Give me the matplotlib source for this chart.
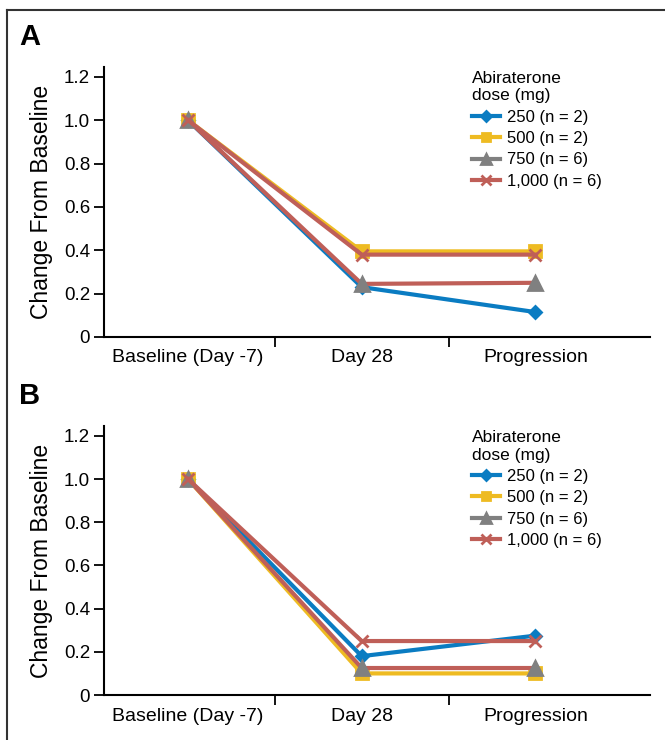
import matplotlib.pyplot as plt
from matplotlib.lines import Line2D

plt.rcParams['font.family'] = ['Liberation Sans Narrow', 'Liberation Sans', 'DejaVu Sans']

categories = ["Baseline (Day -7)", "Day 28", "Progression"]
doses = ["250 (n = 2)", "500 (n = 2)", "750 (n = 6)", "1,000 (n = 6)"]

# panel A
a_250 = [1.0, 0.23, 0.115]
a_500 = [1.0, 0.395, 0.395]
a_750 = [1.0, 0.245, 0.25]
a_1000 = [1.0, 0.38, 0.38]

# panel B
b_250 = [1.0, 0.18, 0.275]
b_500 = [1.0, 0.10, 0.10]
b_750 = [1.0, 0.125, 0.125]
b_1000 = [1.0, 0.25, 0.25]

blue = "#0a7cc2"
yellow = "#eebb22"
grey = "#808080"
red = "#bf5f58"

# line colour, marker colour, marker, marker size
styles = [
    (blue, blue, "D", 6),
    (yellow, yellow, "s", 8),
    (red, grey, "^", 9.5),   # 750 line comes out red in the original
    (red, red, "x", 9),
]

fig = plt.figure(figsize=(6.65, 7.4), dpi=100)
x = range(len(categories))


def draw_panel(ax, series, letter):
    for vals, (lc, mc, mk, ms) in zip(series, styles):
        ax.plot(x, vals, color=lc, lw=3, marker=mk, ms=ms,
                markerfacecolor=mc, markeredgecolor=mc, mew=2, clip_on=False)
    ax.set_xlim(-0.484, 2.66)
    ax.set_ylim(0, 1.246)
    ax.set_yticks([0, 0.2, 0.4, 0.6, 0.8, 1.0, 1.2])
    ax.set_yticklabels(["0", "0.2", "0.4", "0.6", "0.8", "1.0", "1.2"])
    ax.set_xticks([0.5, 1.5])
    ax.set_xticklabels(["", ""])
    ax.set_xticks(list(x), minor=True)
    ax.set_xticklabels(categories, minor=True)
    ax.tick_params(axis='x', which='major', length=7, width=1.3, direction='out')
    ax.tick_params(axis='x', which='minor', length=0, pad=9, labelsize=14)
    ax.tick_params(axis='y', length=7, width=1.3, labelsize=13.5, pad=3)
    ax.spines['top'].set_visible(False)
    ax.spines['right'].set_visible(False)
    ax.spines['left'].set_linewidth(1.5)
    ax.spines['bottom'].set_linewidth(1.5)
    ax.set_ylabel("Change From Baseline", fontsize=16.5, labelpad=8)

    handles = []
    for (lc, mc, mk, ms), lab in zip(styles, doses):
        col = grey if mk == "^" else lc
        handles.append(Line2D([], [], color=col, lw=3, marker=mk, ms=ms * 0.8,
                              markerfacecolor=col, markeredgecolor=col, mew=2))
    ax.legend(handles, doses, title="Abiraterone\ndose (mg)",
              loc='upper left', bbox_to_anchor=(0.646, 1.04),
              frameon=False, fontsize=12, title_fontsize=12.5,
              handlelength=1.7, handletextpad=0.4, labelspacing=0.38,
              alignment='left')
    ax.text(-0.155, 1.06, letter, transform=ax.transAxes, fontsize=21,
            fontweight='bold', family='Liberation Sans', va='bottom')


ax1 = fig.add_axes([0.1564, 0.5446, 0.821, 0.365])
draw_panel(ax1, [a_250, a_500, a_750, a_1000], "A")

ax2 = fig.add_axes([0.1564, 0.0608, 0.821, 0.3635])
draw_panel(ax2, [b_250, b_500, b_750, b_1000], "B")

# frame lines on top and left
fig.add_artist(Line2D([0.0105, 0.0105], [0, 0.9865], color="#333333", lw=1.5))
fig.add_artist(Line2D([0.0105, 1.0], [0.9865, 0.9865], color="#333333", lw=1.5))

plt.savefig("out.png", dpi=100)
